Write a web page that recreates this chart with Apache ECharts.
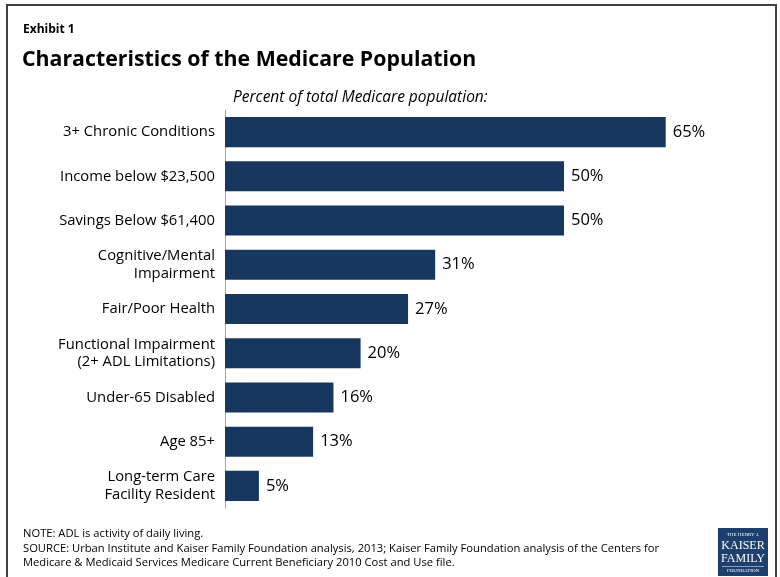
<!DOCTYPE html>
<html><head><meta charset="utf-8">
<script src="https://cdn.jsdelivr.net/npm/echarts@6/dist/echarts.min.js"></script>
<style>html,body{margin:0;padding:0;background:#fff}#c{width:780px;height:577px}</style>
</head><body><div id="c"></div>
<script>
var categories = ["3+ Chronic Conditions","Income below $23,500","Savings Below $61,400","Cognitive/Mental\nImpairment","Fair/Poor Health","Functional Impairment\n(2+ ADL Limitations)","Under-65 Disabled","Age 85+","Long-term Care\nFacility Resident"];
var values = [65,50,50,31,27,20,16,13,5];
var FONT = "'Open Sans', Lato, sans-serif";
var chart = echarts.init(document.getElementById('c'), null, {renderer:'canvas'});
chart.setOption({
  animation:false,
  title:[
    {text:"Exhibit 1", left:18, top:19, padding:5, textStyle:{fontFamily:FONT,fontSize:12,fontWeight:'bold',color:'#000'}},
    {text:"Characteristics of the Medicare Population", left:17, top:44, padding:5, textStyle:{fontFamily:FONT,fontSize:21.3,fontWeight:'bold',color:'#000'}},
    {text:"Percent of total Medicare population:", left:228, top:85, padding:5, textStyle:{fontFamily:FONT,fontSize:15.5,fontStyle:'italic',fontWeight:'normal',color:'#000'}},
    {text:"NOTE: ADL is activity of daily living.\nSOURCE: Urban Institute and Kaiser Family Foundation analysis, 2013; Kaiser Family Foundation analysis of the Centers for\nMedicare & Medicaid Services Medicare Current Beneficiary 2010 Cost and Use file.", left:18, top:522, padding:5, textStyle:{fontFamily:FONT,fontSize:11.2,fontWeight:'normal',color:'#000',lineHeight:14.5}}
  ],
  grid:{left:225, top:110, width:542.4, height:398, containLabel:false},
  xAxis:{type:'value', min:0, max:80, show:false},
  yAxis:{type:'category', data:categories, inverse:true,
    axisLine:{show:true,lineStyle:{color:'#a6a6a6',width:1}}, axisTick:{show:false},
    axisLabel:{margin:10, fontFamily:FONT, fontSize:14.8, color:'#000', lineHeight:17.5}},
  series:[{type:'bar', data:values, barCategoryGap:'32%', itemStyle:{color:'#17375e'},
    label:{show:true, position:'right', distance:7, formatter:'{c}%', fontFamily:FONT, fontSize:16.5, color:'#000'}}],
  graphic:[
    {type:'rect', shape:{x:7,y:5,width:769,height:580}, style:{fill:'none',stroke:'#404040',lineWidth:2}, silent:true},
    {type:'group', left:718, top:528, children:[
      {type:'rect', shape:{x:0,y:0,width:50,height:48}, style:{fill:'#1d3f6e'}},
      {type:'text', style:{text:'THE HENRY J.', x:25, y:4, align:'center', fill:'#fff', font:'5px serif'}},
      {type:'text', style:{text:'KAISER', x:25, y:12, align:'center', fill:'#fff', font:'12px serif'}},
      {type:'text', style:{text:'FAMILY', x:25, y:25, align:'center', fill:'#fff', font:'12px serif'}},
      {type:'rect', shape:{x:4,y:38,width:42,height:0.6}, style:{fill:'#fff'}},
      {type:'text', style:{text:'FOUNDATION', x:25, y:40, align:'center', fill:'#fff', font:'5px serif'}}
    ]}
  ]
});
</script></body></html>
